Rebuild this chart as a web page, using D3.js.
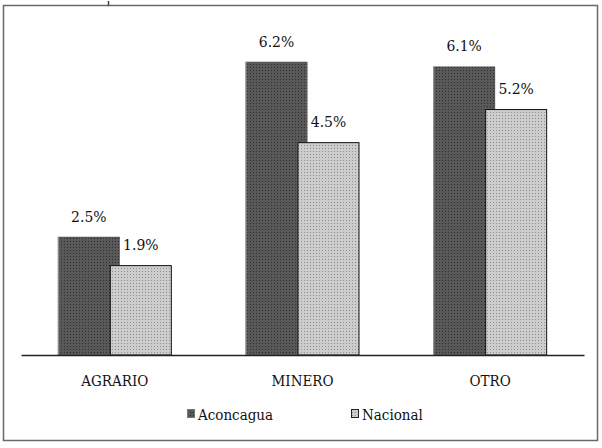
<!DOCTYPE html>
<html>
<head>
<meta charset="utf-8">
<script src="https://cdn.jsdelivr.net/npm/d3@7"></script>
<style>
  body { margin: 0; background: #fff; }
  svg text { font-stretch: condensed; }
</style>
</head>
<body>
<script>
// chart data
const categories = ['AGRARIO', 'MINERO', 'OTRO'];
const seriesNames = ['Aconcagua', 'Nacional'];
const aconcagua = [2.5, 6.2, 6.1];
const nacional = [1.9, 4.5, 5.2];

const width = 602;
const height = 448;
const baseY = 355;
const pxPerUnit = 47.3;
const serif = "'DejaVu Serif Condensed', 'DejaVu Serif', serif";

const svg = d3.select('body')
    .append('svg')
        .attr('width', width)
        .attr('height', height);

// dotted fills like the old office chart
const defs = svg.append('defs');
function addPattern(id, base, dot) {
    let p = defs.append('pattern')
        .attr('id', id)
        .attr('width', 3)
        .attr('height', 3)
        .attr('patternUnits', 'userSpaceOnUse');
    p.append('rect').attr('width', 3).attr('height', 3).attr('fill', base);
    p.append('rect').attr('x', 1).attr('y', 1).attr('width', 1).attr('height', 1).attr('fill', dot);
}
addPattern('darkFill', '#595959', '#2e2e2e');
addPattern('lightFill', '#cdcdcd', '#8f8f8f');

// outer frame
svg.append('rect')
    .attr('x', 3.5)
    .attr('y', 5.5)
    .attr('width', 594)
    .attr('height', 435)
    .attr('fill', 'none')
    .attr('stroke', '#6a6a6a')
    .attr('stroke-width', 1.5);
svg.append('line')
    .attr('x1', 108.5).attr('x2', 108.5)
    .attr('y1', 1).attr('y2', 6)
    .attr('stroke', '#444').attr('stroke-width', 1.5);

const xScale = d3.scaleBand()
    .domain(categories)
    .range([21, 584]);

const yScale = d3.scaleLinear()
    .domain([0, 6.2])
    .range([baseY, baseY - 6.2 * pxPerUnit]);

const barW = 62;
const step = 52;

const rows = categories.map((c, i) => ({cat: c, a: aconcagua[i], n: nacional[i]}));
const barX = d => xScale(d.cat) + xScale.bandwidth() / 2 - 57;

let g = svg.append('g').attr('font-family', serif);

// dark bars (Aconcagua)
g.selectAll('rect.dark')
    .data(rows)
    .enter()
        .append('rect')
            .attr('class', 'dark')
            .attr('x', d => barX(d))
            .attr('y', d => yScale(d.a))
            .attr('width', barW)
            .attr('height', d => baseY - yScale(d.a))
            .attr('fill', 'url(#darkFill)');

// lighter left edge on dark bars
g.selectAll('line.edge')
    .data(rows)
    .enter()
        .append('line')
            .attr('x1', d => barX(d) + 0.5)
            .attr('x2', d => barX(d) + 0.5)
            .attr('y1', d => yScale(d.a))
            .attr('y2', baseY)
            .attr('stroke', '#9a9a9a')
            .attr('stroke-width', 1);

// light bars (Nacional)
g.selectAll('rect.light')
    .data(rows)
    .enter()
        .append('rect')
            .attr('class', 'light')
            .attr('x', d => barX(d) + step + 0.5)
            .attr('y', d => yScale(d.n) + 0.5)
            .attr('width', barW - 1)
            .attr('height', d => baseY - yScale(d.n) - 0.5)
            .attr('fill', 'url(#lightFill)')
            .attr('stroke', '#111')
            .attr('stroke-width', 1);

// value labels
g.selectAll('text.va')
    .data(rows)
    .enter()
        .append('text')
            .attr('x', d => barX(d) + barW / 2)
            .attr('y', d => yScale(d.a) - 15)
            .attr('text-anchor', 'middle')
            .attr('font-size', 15.5)
            .attr('fill', '#111')
            .text(d => d.a.toFixed(1) + '%');

g.selectAll('text.vn')
    .data(rows)
    .enter()
        .append('text')
            .attr('x', d => barX(d) + step + barW / 2)
            .attr('y', d => yScale(d.n) - 15)
            .attr('text-anchor', 'middle')
            .attr('font-size', 15.5)
            .attr('fill', '#111')
            .text(d => d.n.toFixed(1) + '%');

// baseline / x axis
const xAxis = svg.append('g')
    .attr('transform', `translate(0, ${baseY})`)
    .call(d3.axisBottom(xScale).tickSize(0).tickPadding(20))
    .attr('font-family', serif)
    .attr('font-size', 15);
xAxis.select('.domain').attr('stroke', '#222').attr('stroke-width', 1.3);
xAxis.selectAll('text').attr('fill', '#111');

// legend
const legendX = [187, 351];
const legendFill = ['url(#darkFill)', 'url(#lightFill)'];
seriesNames.forEach((name, i) => {
    svg.append('rect')
        .attr('x', legendX[i] + 0.5)
        .attr('y', 409.5)
        .attr('width', 7)
        .attr('height', 8)
        .attr('fill', legendFill[i])
        .attr('stroke', i == 0 ? '#777' : '#222')
        .attr('stroke-width', 1);
    svg.append('text')
        .attr('x', legendX[i] + 11)
        .attr('y', 420)
        .attr('font-family', serif)
        .attr('font-size', 15)
        .attr('fill', '#111')
        .text(name);
});
</script>
</body>
</html>
